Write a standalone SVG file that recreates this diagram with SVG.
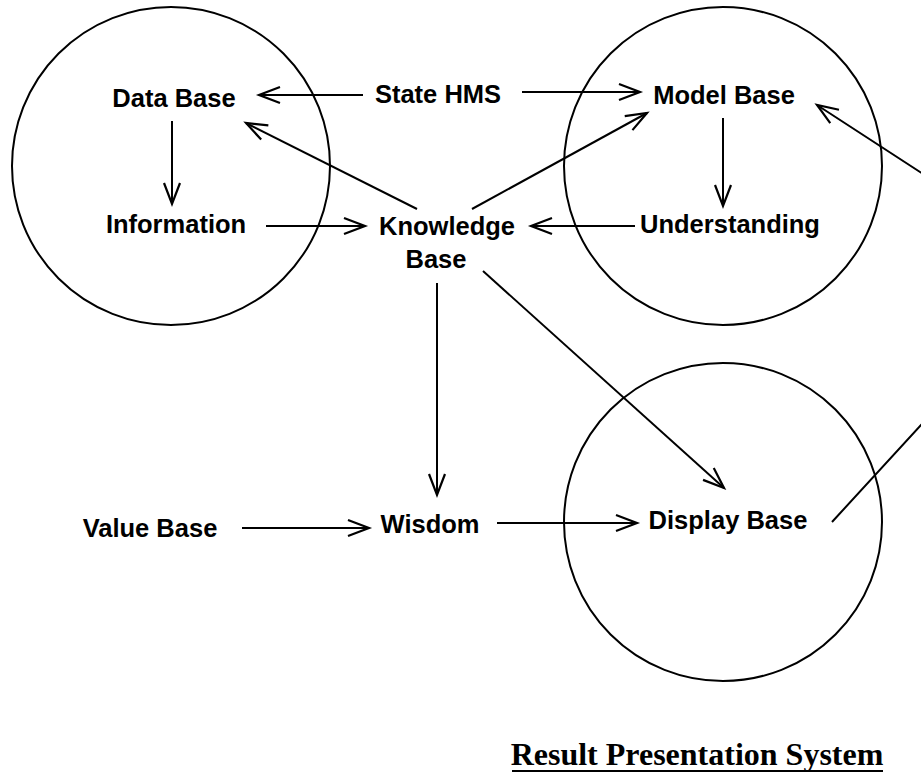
<svg xmlns="http://www.w3.org/2000/svg" width="921" height="774" viewBox="0 0 921 774">
<defs>
<style>
.lbl{font-family:"Liberation Sans",Arial,sans-serif;font-weight:bold;font-size:25.5px;fill:#000;text-anchor:middle}
.ring{fill:none;stroke:#000;stroke-width:2}
.c{fill:none;stroke:#000;stroke-width:2;marker-end:url(#ah)}
.title{font-family:"Liberation Serif","Times New Roman",serif;font-weight:bold;font-size:32px;fill:#000;text-anchor:middle}
</style>
<marker id="ah" markerUnits="userSpaceOnUse" markerWidth="30" markerHeight="24" viewBox="-24 -12 30 24" refX="0" refY="0" orient="auto">
<path d="M-21,-8 L0,0 L-21,8" fill="none" stroke="#000" stroke-width="2.2" stroke-linejoin="miter"/>
</marker>
</defs>
<rect width="921" height="774" fill="#fff"/>
<g id="circles">
<circle class="ring" cx="171" cy="166" r="159"/>
<circle class="ring" cx="723" cy="166" r="159"/>
<circle class="ring" cx="723" cy="522" r="159"/>
</g>
<g id="connectors">
<line class="c" x1="363" y1="95" x2="259" y2="95"/>
<line class="c" x1="522" y1="92" x2="640" y2="92"/>
<line class="c" x1="417" y1="209" x2="246" y2="123"/>
<line class="c" x1="472" y1="209" x2="647" y2="113"/>
<line class="c" x1="172" y1="121" x2="172" y2="204"/>
<line class="c" x1="266" y1="226" x2="365" y2="226"/>
<line class="c" x1="723" y1="118" x2="723" y2="206"/>
<line class="c" x1="635" y1="226" x2="531" y2="226"/>
<line class="c" x1="437" y1="283" x2="437" y2="495"/>
<line class="c" x1="483" y1="271" x2="724" y2="488"/>
<line class="c" x1="242" y1="528" x2="369" y2="528"/>
<line class="c" x1="497" y1="523" x2="637" y2="523"/>
<polyline class="c" points="832,522 1066,267 817,105"/>
</g>
<g id="data-base"><text class="lbl" x="174" y="107">Data Base</text></g>
<g id="state-hms"><text class="lbl" x="438" y="103">State HMS</text></g>
<g id="model-base"><text class="lbl" x="724" y="104">Model Base</text></g>
<g id="information"><text class="lbl" x="176" y="233">Information</text></g>
<g id="knowledge-base"><text class="lbl" x="447" y="235">Knowledge</text><text class="lbl" x="436" y="268">Base</text></g>
<g id="understanding"><text class="lbl" x="730" y="233">Understanding</text></g>
<g id="value-base"><text class="lbl" x="150" y="537">Value Base</text></g>
<g id="wisdom"><text class="lbl" x="430" y="533">Wisdom</text></g>
<g id="display-base"><text class="lbl" x="728" y="529">Display Base</text></g>
<g id="title"><text class="title" x="697" y="765">Result Presentation System</text>
<line x1="512" y1="771" x2="883" y2="771" stroke="#000" stroke-width="2"/></g>
</svg>
